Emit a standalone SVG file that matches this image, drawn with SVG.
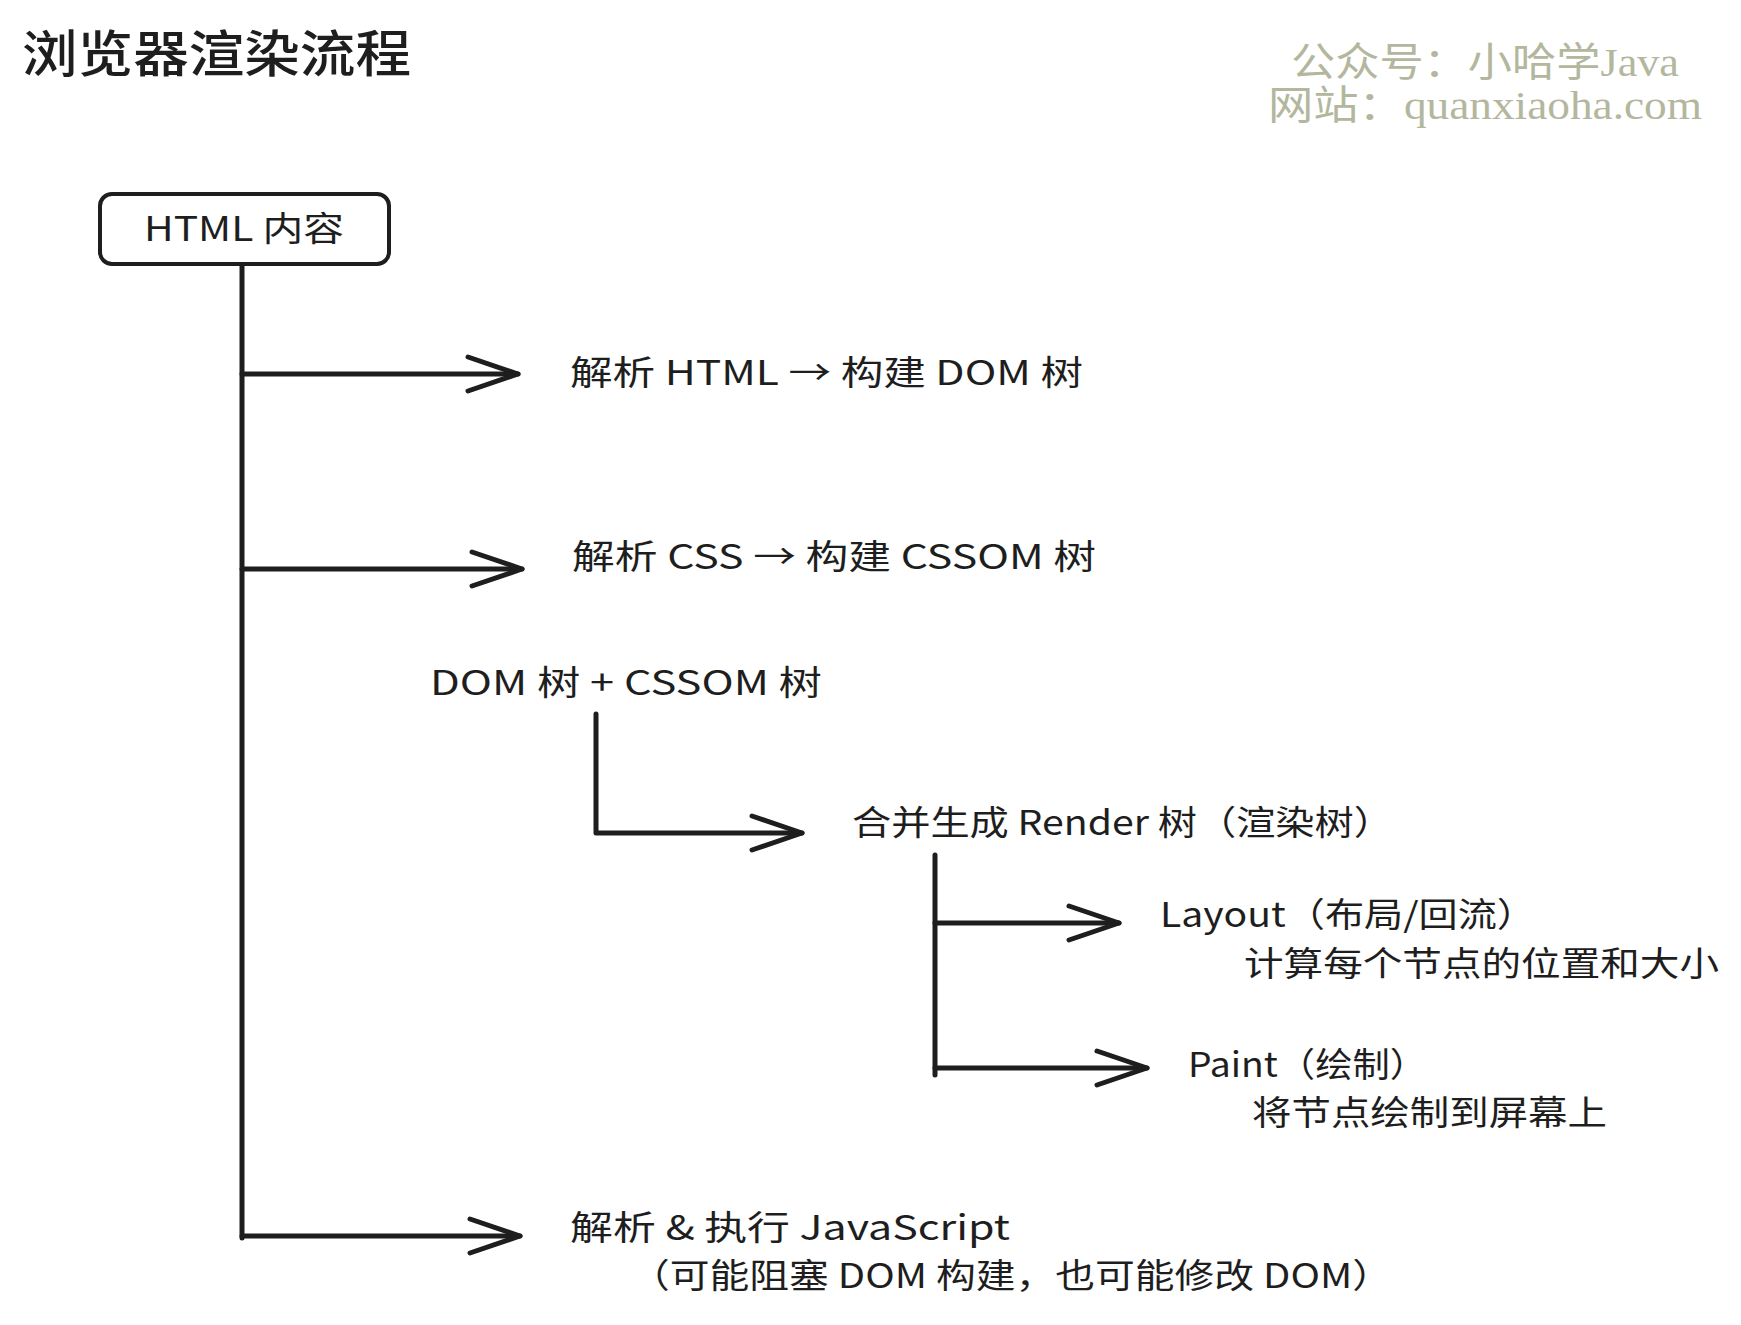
<svg xmlns="http://www.w3.org/2000/svg" width="1741" height="1325" viewBox="0 0 1741 1325">
<defs>
<style>
.lbl{font-family:"Noto Sans CJK SC","Noto Sans",sans-serif;font-size:34px;fill:#1e1e1e}
.title{font-family:"Noto Sans CJK SC","Noto Sans",sans-serif;font-size:50px;fill:#1e1e1e;font-weight:500}
.wm{font-family:"Liberation Serif","Noto Sans CJK SC",serif;font-size:40px;fill:#b3b79d}
.ln{fill:none;stroke:#1e1e1e;stroke-width:5;stroke-linecap:round;stroke-linejoin:round}
</style>
<marker id="arr" markerUnits="userSpaceOnUse" markerWidth="64" markerHeight="48" viewBox="-58 -24 64 48" refX="0" refY="0" orient="auto">
<path d="M-50,-17 L0,0 L-50,17" fill="none" stroke="#1e1e1e" stroke-width="5" stroke-linecap="round" stroke-linejoin="round"/>
</marker>
</defs>
<rect width="1741" height="1325" fill="#ffffff"/>
<text class="title" x="22" y="72" textLength="389" lengthAdjust="spacingAndGlyphs">浏览器渲染流程</text>
<g id="watermark">
<text class="wm" x="1291" y="76" textLength="388" lengthAdjust="spacingAndGlyphs">公众号：小哈学Java</text>
<text class="wm" x="1268" y="119" textLength="434" lengthAdjust="spacingAndGlyphs">网站：quanxiaoha.com</text>
</g>
<g id="connectors">
<path class="ln" d="M242,264 V1238"/>
<path class="ln" d="M242,374 H518" marker-end="url(#arr)"/>
<path class="ln" d="M242,569 H522" marker-end="url(#arr)"/>
<path class="ln" d="M242,1236 H520" marker-end="url(#arr)"/>
<path class="ln" d="M596,714 V833 H802" marker-end="url(#arr)"/>
<path class="ln" d="M935,855 V1075"/>
<path class="ln" d="M935,923 H1119" marker-end="url(#arr)"/>
<path class="ln" d="M935,1068 H1147" marker-end="url(#arr)"/>
</g>
<g id="node-html">
<rect x="100" y="194" width="289" height="70" rx="12" fill="#ffffff" stroke="#1e1e1e" stroke-width="4"/>
<text class="lbl" x="144" y="241" textLength="200" lengthAdjust="spacingAndGlyphs">HTML 内容</text>
</g>
<g id="node-dom">
<text class="lbl" x="570" y="385" textLength="513" lengthAdjust="spacingAndGlyphs">解析 HTML → 构建 DOM 树</text>
</g>
<g id="node-cssom">
<text class="lbl" x="572" y="569" textLength="524" lengthAdjust="spacingAndGlyphs">解析 CSS → 构建 CSSOM 树</text>
</g>
<g id="node-merge-src">
<text class="lbl" x="430" y="695" textLength="392" lengthAdjust="spacingAndGlyphs">DOM 树 + CSSOM 树</text>
</g>
<g id="node-render">
<text class="lbl" x="852" y="835" textLength="541" lengthAdjust="spacingAndGlyphs">合并生成 Render 树（渲染树）</text>
</g>
<g id="node-layout">
<text class="lbl" x="1160" y="927" textLength="376" lengthAdjust="spacingAndGlyphs">Layout（布局/回流）</text>
<text class="lbl" x="1244" y="976" textLength="475" lengthAdjust="spacingAndGlyphs">计算每个节点的位置和大小</text>
</g>
<g id="node-paint">
<text class="lbl" x="1188" y="1077" textLength="239" lengthAdjust="spacingAndGlyphs">Paint（绘制）</text>
<text class="lbl" x="1252" y="1125" textLength="355" lengthAdjust="spacingAndGlyphs">将节点绘制到屏幕上</text>
</g>
<g id="node-js">
<text class="lbl" x="570" y="1240" textLength="440" lengthAdjust="spacingAndGlyphs">解析 &amp; 执行 JavaScript</text>
<text class="lbl" x="630" y="1288" textLength="762" lengthAdjust="spacingAndGlyphs">（可能阻塞 DOM 构建，也可能修改 DOM）</text>
</g>
</svg>
